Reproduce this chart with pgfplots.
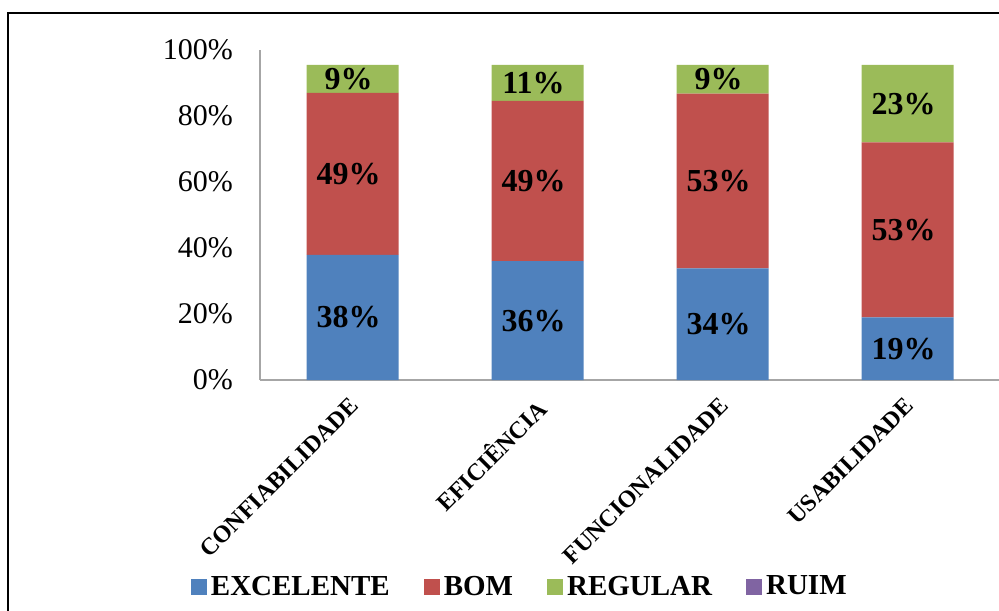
\documentclass[border=0pt]{standalone}
\usepackage{pgfplots}
\pgfplotsset{compat=1.18}
\usepackage{pgfplotstable}
\usepackage{fontspec}
\setmainfont{Liberation Serif}
\definecolor{cexc}{HTML}{4F81BD}
\definecolor{cbom}{HTML}{C0504D}
\definecolor{creg}{HTML}{9BBB59}
\definecolor{cruim}{HTML}{8064A2}
\definecolor{axgray}{HTML}{A6A6A6}

\pgfplotstableread{
x exc bom reg le lb lr
0 37.9 49.1 8.5 38 49 9
1 36.0 48.6 10.9 36 49 11
2 33.8 53.0 8.7 34 53 9
3 19.0 53.0 23.5 19 53 23
}\data

\begin{document}
\begin{tikzpicture}
\useasboundingbox (0,0) rectangle (499.5pt,305pt);
\draw[line width=1pt] (3.75pt,-20pt) -- (3.75pt,298.5pt) -- (520pt,298.5pt);
\begin{axis}[
 at={(130pt,115pt)}, anchor=south west, scale only axis,
 width=370pt, height=165pt,
 xmin=-0.5, xmax=3.5, ymin=0, ymax=100,
 ybar stacked, bar width=46pt,
 axis x line*=bottom, axis y line*=left,
 axis line style={draw=axgray, line width=1pt},
 major tick length=0pt,
 ytick={0,20,...,100},
 yticklabel={\pgfmathprintnumber{\tick}\%},
 /pgf/number format/assume math mode=true,
 yticklabel style={font=\fontsize{15}{18}\selectfont, xshift=-10pt},
 xtick={0,1,2,3},
 xticklabels={CONFIABILIDADE, EFICIÊNCIA, FUNCIONALIDADE, USABILIDADE},
 xticklabel style={font=\bfseries\fontsize{12}{14}\selectfont, rotate=45, anchor=north east, xshift=-3.5pt, yshift=-1pt},
 legend style={at={(-0.102,-0.627)}, anchor=west, draw=none, fill=none,
   font=\bfseries\fontsize{14.5}{17}\selectfont,
   /tikz/every even column/.append style={column sep=15pt}},
 legend columns=4,
 legend image code/.code={\fill[#1] (0pt,-4pt) rectangle (8pt,4pt);},
 point meta=explicit symbolic,
 nodes near coords={\pgfplotspointmeta\%},
 every node near coord/.append style={font=\bfseries\fontsize{16}{19}\selectfont, anchor=center, xshift=-2pt},
]
\addplot[fill=cexc, draw=none] table[x=x,y=exc,meta=le]{\data};
\addlegendentry{EXCELENTE}
\addplot[fill=cbom, draw=none] table[x=x,y=bom,meta=lb]{\data};
\addlegendentry{BOM}
\addplot[fill=creg, draw=none] table[x=x,y=reg,meta=lr]{\data};
\addlegendentry{REGULAR}
\addlegendimage{fill=cruim, draw=none}
\addlegendentry{RUIM}
\end{axis}
\end{tikzpicture}
\end{document}
